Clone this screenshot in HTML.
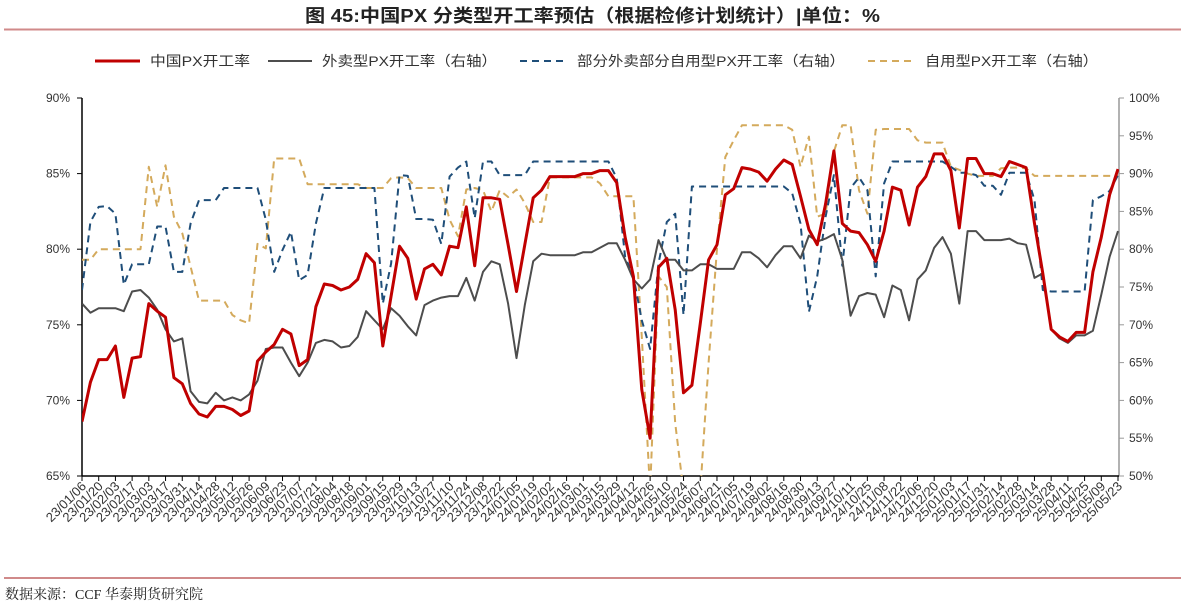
<!DOCTYPE html>
<html><head><meta charset="utf-8">
<style>
html,body{margin:0;padding:0;background:#fff;}
body{width:1185px;height:607px;overflow:hidden;font-family:"Liberation Sans","Noto Sans CJK SC",sans-serif;}
svg text{font-family:"Liberation Sans","Noto Sans CJK SC",sans-serif;}
</style></head>
<body>
<svg id="chart" width="1185" height="607" viewBox="0 0 1185 607" xmlns="http://www.w3.org/2000/svg">
  <text x="305" y="22" font-size="18" font-weight="bold" fill="#222" textLength="575" lengthAdjust="spacingAndGlyphs">图 45:中国PX 分类型开工率预估（根据检修计划统计）|单位：%</text>
  <line x1="4" y1="29.5" x2="1181" y2="29.5" stroke="#d08a8a" stroke-width="2"/>
  <g font-size="14" fill="#333">
    <g>
      <line x1="95" y1="61" x2="140" y2="61" stroke="#c00000" stroke-width="3"/>
      <text x="150" y="66" textLength="100" lengthAdjust="spacingAndGlyphs">中国PX开工率</text>
    </g>
    <g>
      <line x1="268" y1="61" x2="312" y2="61" stroke="#4d4d4d" stroke-width="2"/>
      <text x="322" y="66" textLength="175" lengthAdjust="spacingAndGlyphs">外卖型PX开工率（右轴）</text>
    </g>
    <g>
      <line x1="520" y1="61" x2="565" y2="61" stroke="#1f4e79" stroke-width="2" stroke-dasharray="7,5"/>
      <text x="577" y="66" textLength="268" lengthAdjust="spacingAndGlyphs">部分外卖部分自用型PX开工率（右轴）</text>
    </g>
    <g>
      <line x1="868" y1="61" x2="912" y2="61" stroke="#d4aa5c" stroke-width="2" stroke-dasharray="7,5"/>
      <text x="925" y="66" textLength="173" lengthAdjust="spacingAndGlyphs">自用型PX开工率（右轴）</text>
    </g>
  </g>
  <g id="axes"></g>
  <g id="series"></g>
  <line x1="4" y1="578" x2="1181" y2="578" stroke="#d08a8a" stroke-width="2"/>
  <text x="5" y="599" font-size="14" fill="#222" style="font-family:'Liberation Serif','Noto Serif CJK SC',serif">数据来源：CCF 华泰期货研究院</text>
</svg>
<script>
const startDate = "2023-01-06";
const leftTicks = [65,70,75,80,85,90];
const rightTicks = [50,55,60,65,70,75,80,85,90,95,100];
const chinaRate = [68.6,71.2,72.7,72.7,73.6,70.2,72.8,72.9,76.4,75.9,75.5,71.5,71.1,69.8,69.1,68.9,69.6,69.6,69.4,69.0,69.3,72.6,73.2,73.7,74.7,74.4,72.3,72.7,76.2,77.7,77.6,77.3,
77.5,78.0,79.7,79.1,73.6,76.9,80.2,79.4,76.7,78.7,79.0,78.3,80.2,80.1,82.8,78.9,83.4,83.4,83.3,80.3,77.2,80.3,83.4,83.9,84.8,84.8,84.8,84.8,85.0,85.0,
85.2,85.2,84.4,80.8,78.2,70.7,67.5,78.8,79.4,76.0,70.5,71.0,75.1,79.3,80.3,83.6,84.0,85.4,85.3,85.1,84.5,85.3,85.9,85.6,83.5,81.3,80.3,83.0,86.5,
81.7,81.2,81.1,80.3,79.2,81.2,84.1,83.9,81.6,84.1,84.8,86.3,86.3,85.2,81.4,86.0,86.0,85.0,85.0,84.8,85.8,85.6,85.4,81.7,78.4,74.7,74.2,73.9,74.5,74.5,78.5,80.8,83.6,85.3];
const merchantRate = [76.4,75.8,76.1,76.1,76.1,75.9,77.2,77.3,76.8,76.0,74.7,73.9,74.1,70.6,69.9,69.8,70.5,70.0,70.2,70.0,70.4,71.3,73.4,73.5,73.5,72.5,71.6,72.5,73.8,74.0,73.9,73.5,
73.6,74.2,75.9,75.3,74.7,76.1,75.6,74.9,74.3,76.3,76.6,76.8,76.9,76.9,78.1,76.6,78.5,79.2,79.0,76.4,72.8,76.3,79.2,79.7,79.6,79.6,79.6,79.6,79.8,79.8,
80.1,80.4,80.4,79.3,78.0,77.4,78.0,80.6,79.3,79.3,78.6,78.6,79.0,79.0,78.7,78.7,78.7,79.8,79.8,79.4,78.8,79.6,80.2,80.2,79.4,80.9,80.5,80.7,81.0,
79.3,75.6,76.9,77.1,77.0,75.5,77.6,77.3,75.3,78.0,78.6,80.1,80.8,79.7,76.4,81.2,81.2,80.6,80.6,80.6,80.7,80.4,80.3,78.1,78.4,74.7,74.1,73.8,74.3,74.3,74.6,77.0,79.5,81.2];
const mixedRate = [74.6,83.6,85.6,85.7,84.7,75.3,78.0,78.0,78.0,83.0,83.0,77.0,77.0,83.4,86.5,86.5,86.5,88.1,88.1,88.1,88.1,88.1,83.9,77.0,79.9,82.3,75.9,76.6,83.4,88.1,88.1,88.1,
88.1,88.1,88.1,88.1,72.8,78.1,89.8,89.7,84.0,84.0,83.9,80.7,89.6,90.8,91.6,84.1,91.6,91.6,89.8,89.8,89.8,89.8,91.6,91.6,91.6,91.6,91.6,91.6,91.6,91.6,
91.6,91.6,89.4,79.0,76.4,70.6,66.8,78.1,83.6,84.7,71.3,88.3,88.3,88.3,88.3,88.3,88.3,88.3,88.3,88.3,88.3,88.3,88.3,87.4,83.4,71.7,76.4,84.3,89.8,
77.8,88.1,89.5,87.8,76.4,88.7,91.6,91.6,91.6,91.6,91.6,91.6,91.6,90.9,90.1,90.1,89.8,88.4,88.4,87.2,90.1,90.1,90.1,86.5,74.6,74.4,74.4,74.4,74.4,74.4,86.5,87.0,87.7,89.8];
const captiveRate = [78.6,78.6,80.0,80.0,80.0,80.0,80.0,80.0,90.9,85.6,91.1,84.3,82.1,77.7,73.2,73.2,73.2,73.2,71.3,70.6,70.2,80.7,80.1,92.0,92.0,92.0,92.0,88.6,88.6,88.6,88.6,88.6,
88.6,88.6,88.1,88.1,88.1,89.4,89.5,89.4,88.1,88.1,88.1,88.1,83.9,81.7,87.9,88.1,87.8,85.0,87.8,86.9,87.9,86.1,83.6,83.6,89.5,89.5,89.5,89.5,89.5,89.5,
88.7,87.0,87.0,87.0,87.0,68.4,48.0,76.4,75.0,57.0,48.0,46.0,48.0,65.0,80.1,92.2,94.4,96.4,96.4,96.4,96.4,96.4,96.4,95.8,90.9,94.9,84.3,84.7,92.9,
96.4,96.4,87.8,84.7,95.8,95.9,95.9,95.9,95.9,94.4,94.1,94.1,94.1,90.9,90.5,90.0,89.7,89.7,89.7,90.7,90.8,90.8,90.7,89.7,89.7,89.7,89.7,89.7,89.7,89.7,89.7,89.7,89.7,89.7];

const NS = "http://www.w3.org/2000/svg";
const PL = 82, PR = 1119, PT = 98, PB = 476;
const N = chinaRate.length;
const xAt = i => PL + (PR - 1 - PL) * i / (N - 1);
const yLeft = v => PB - (v - 65) / 25 * (PB - PT);
const yRight = v => PB - (v - 50) / 50 * (PB - PT);
function mk(tag, attrs, parent){ const e=document.createElementNS(NS,tag); for(const k in attrs) e.setAttribute(k,attrs[k]); parent.appendChild(e); return e; }
const axes = document.getElementById('axes');
const series = document.getElementById('series');

const defs = mk('defs',{},axes);
const cp = mk('clipPath',{id:'plotclip'},defs);
mk('rect',{x:PL,y:PT-2,width:PR-PL,height:PB-PT+2},cp);

const la = mk('line',{x1:PL,y1:PT,x2:PL,y2:PB,stroke:'#000','stroke-width':1.5},axes);


leftTicks.forEach(v=>{
  const y=yLeft(v);
  const t=mk('line',{x1:PL-5,y1:y,x2:PL,y2:y,stroke:'#000','stroke-width':1},axes);
  
  
  const tx=mk('text',{x:PL-12,y:y+4,'font-size':12,'text-anchor':'end',fill:'#333'},axes);
  tx.textContent=v+'%';
  
  
});
const ra = mk('line',{x1:PR,y1:PT,x2:PR,y2:PB,stroke:'#999','stroke-width':1.5},axes);


rightTicks.forEach(v=>{
  const y=yRight(v);
  const t=mk('line',{x1:PR,y1:y,x2:PR+5,y2:y,stroke:'#999','stroke-width':1},axes);
  
  
  const tx=mk('text',{x:PR+10,y:y+4,'font-size':12,fill:'#333'},axes);
  tx.textContent=v+'%';
  
  
});
const xa = mk('line',{x1:PL,y1:PB,x2:PR,y2:PB,stroke:'#000','stroke-width':1.5},axes);


const d0 = new Date(startDate+"T00:00:00Z");
for(let i=0;i<N;i+=2){
  const x=xAt(i);
  const t=mk('line',{x1:x,y1:PB,x2:x,y2:PB+5,stroke:'#000','stroke-width':1},axes);
  
  
  const d=new Date(d0.getTime()+i*7*86400000);
  const lab=String(d.getUTCFullYear()%100).padStart(2,'0')+'/'+String(d.getUTCMonth()+1).padStart(2,'0')+'/'+String(d.getUTCDate()).padStart(2,'0');
  const tx=mk('text',{x:x+5,y:PB+11,'font-size':13,'text-anchor':'end',fill:'#333',transform:`rotate(-45 ${x+5} ${PB+11})`},axes);
  tx.textContent=lab;
  
  
}
function drawLine(arr, yf, color, width, dash, name){
  const pts=arr.map((v,i)=>xAt(i).toFixed(1)+','+yf(v).toFixed(1)).join(' ');
  const attrs={points:pts,fill:'none',stroke:color,'stroke-width':width,'stroke-linejoin':'round','clip-path':'url(#plotclip)'};
  if(dash) attrs['stroke-dasharray']=dash;
  const p=mk('polyline',attrs,series);
  
  
}
drawLine(captiveRate, yRight, '#d4aa5c', 2, '7,5', 'captive-rate-line');
drawLine(mixedRate, yRight, '#1f4e79', 2, '7,5', 'mixed-rate-line');
drawLine(merchantRate, yLeft, '#4d4d4d', 2, null, 'merchant-rate-line');
drawLine(chinaRate, yLeft, '#c00000', 3, null, 'china-rate-line');
</script>
</body></html>
